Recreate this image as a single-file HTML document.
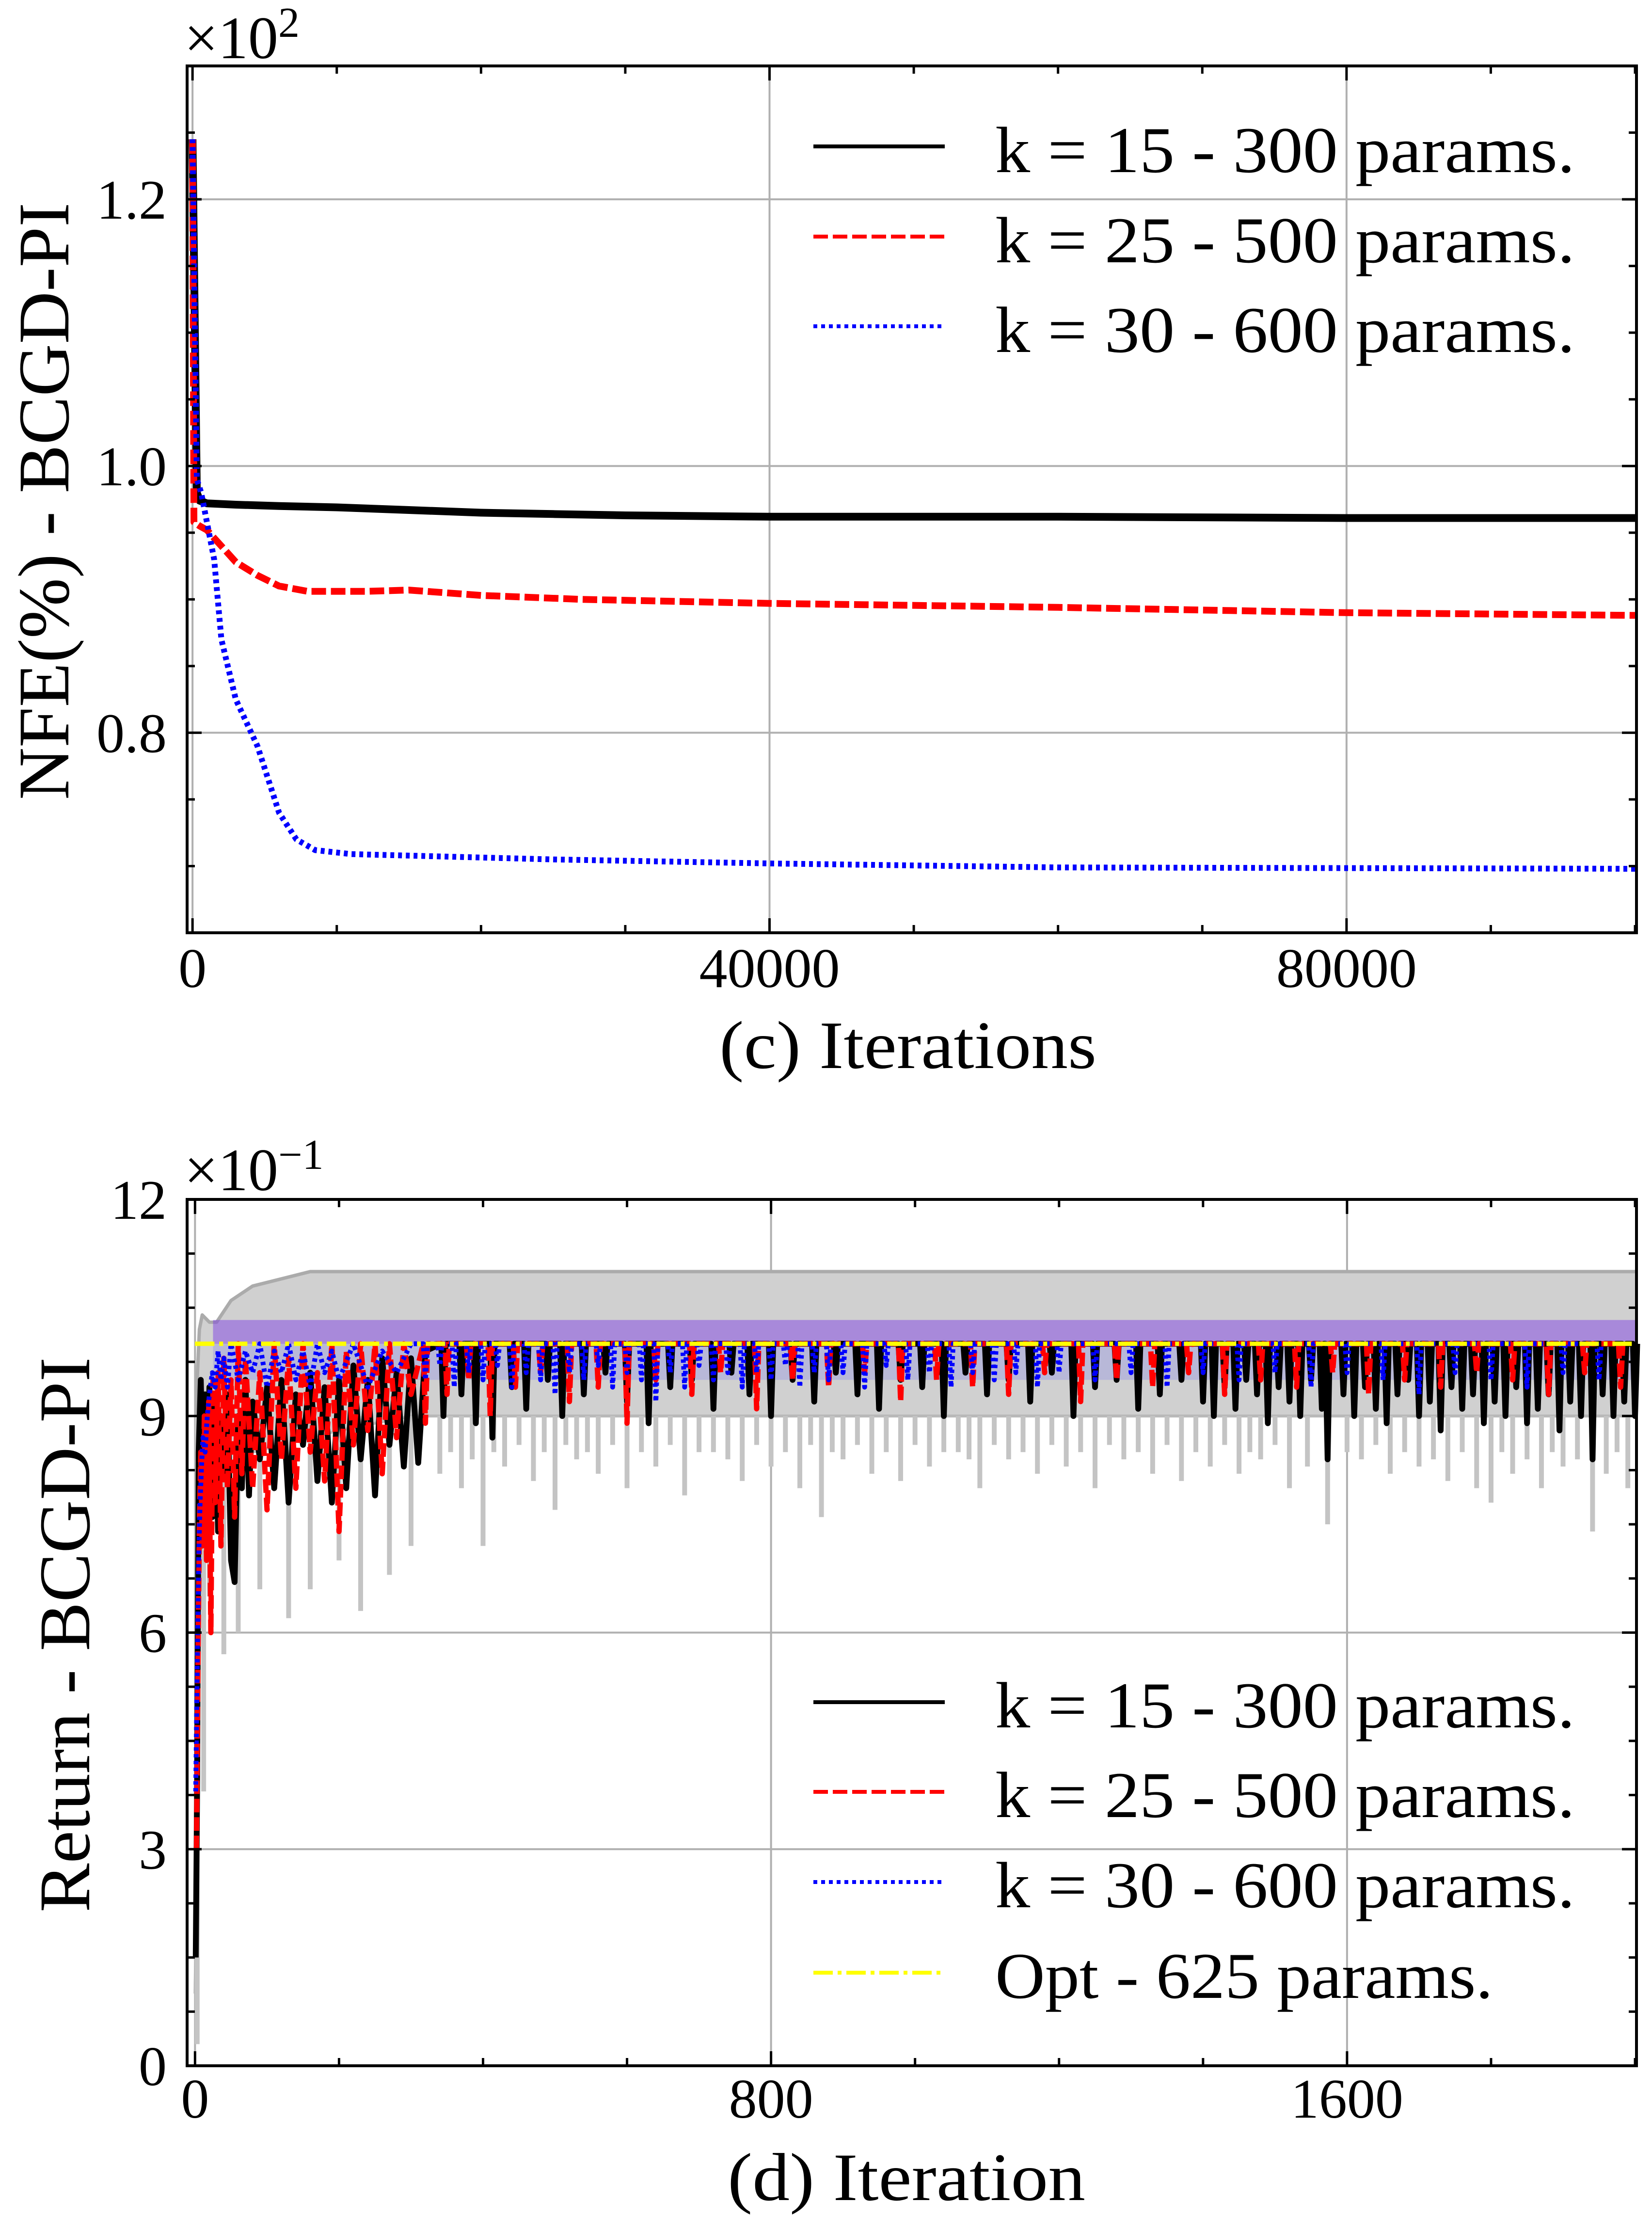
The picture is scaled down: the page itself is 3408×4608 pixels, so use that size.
<!DOCTYPE html>
<html><head><meta charset="utf-8"><style>
html,body{margin:0;padding:0;background:#fff}
svg{display:block;font-family:"Liberation Serif","DejaVu Serif",serif}
</style></head><body>
<svg id="fig" width="3408" height="4608" viewBox="0 0 3408 4608" xmlns="http://www.w3.org/2000/svg">
<rect x="0" y="0" width="3408" height="4608" fill="#fff"/>
<g id="top"></g>
<g id="bot"></g>
</svg>
<script>
// ---------- Top panel data ----------
const topXTicks = [0, 40000, 80000];
const topXTickLabels = ["0", "40000", "80000"];
const topYTicks = [0.8, 1.0, 1.2];
const topYTickLabels = ["0.8", "1.0", "1.2"];
const blackIterC = [0, 300, 500, 1000, 3000, 6000, 10000, 15000, 20000, 25000, 30000, 40000, 60000, 80000, 100000];
const blackValC  = [1.245, 0.98, 0.974, 0.972, 0.971, 0.970, 0.969, 0.967, 0.965, 0.964, 0.963, 0.962, 0.962, 0.961, 0.961];
const redIterC = [0, 100, 500, 1000, 2000, 3000, 4500, 6000, 8000, 12000, 15000, 20000, 27000, 40000, 60000, 80000, 100000];
const redValC  = [1.245, 0.958, 0.955, 0.952, 0.940, 0.928, 0.918, 0.910, 0.906, 0.906, 0.907, 0.903, 0.900, 0.897, 0.894, 0.890, 0.888];
const blueIterC = [0, 300, 600, 1500, 2000, 3000, 4500, 6000, 7200, 8500, 11000, 25000, 40000, 60000, 100000];
const blueValC  = [1.245, 0.99, 0.98, 0.93, 0.87, 0.825, 0.79, 0.74, 0.72, 0.712, 0.709, 0.705, 0.702, 0.699, 0.698];

// ---------- Bottom panel data ----------
const botXTicks = [0, 800, 1600];
const botXTickLabels = ["0", "800", "1600"];
const botYTicks = [0, 3, 6, 9, 12];
const botYTickLabels = ["0", "3", "6", "9", "12"];
const optValue = 10;
const bandIter = [0, 3, 6, 10, 20, 30, 50, 80, 120, 160, 200, 250, 300, 330, 2000];
const bandLow  = [1.0, 3.0, 6.5, 7.3, 7.8, 8.0, 8.3, 8.5, 8.6, 8.7, 8.8, 8.9, 9.0, 9.0, 9.0];
const bandHigh = [1.5, 9.5, 10.2, 10.4, 10.3, 10.3, 10.6, 10.8, 10.9, 11.0, 11.0, 11.0, 11.0, 11.0, 11.0];
const graySpikeIter = [3,12,20,40,60,90,130,160,200,230,270,300,340,355,370,385,400,415,430,450,470,485,500,515,530,545,560,580,600,620,640,660,680,700,720,740,760,780,800,820,840,855,870,885,900,920,940,960,980,1000,1020,1040,1060,1075,1090,1110,1130,1150,1170,1190,1210,1230,1250,1270,1290,1310,1330,1350,1370,1390,1410,1430,1450,1465,1480,1500,1520,1545,1573,1600,1620,1640,1660,1680,1700,1720,1740,1760,1780,1800,1815,1830,1850,1870,1885,1900,1920,1941,1960,1975,1990];
const graySpikeLow  = [0.3,3.8,6.5,5.7,6.0,6.6,6.2,6.6,7.0,6.3,6.8,7.2,8.2,8.5,8.0,8.4,7.2,8.5,8.3,8.6,8.1,8.5,7.7,8.6,8.4,8.5,8.2,8.6,8.0,8.5,8.3,8.6,7.9,8.5,8.5,8.4,8.1,8.6,8.3,8.5,8.0,8.6,7.6,8.5,8.4,8.6,8.2,8.5,8.1,8.6,8.3,8.5,8.5,8.4,8.0,8.6,8.4,8.5,8.2,8.6,8.3,8.5,8.0,8.6,8.4,8.5,8.2,8.6,8.1,8.5,8.3,8.6,8.2,8.5,8.4,8.6,8.0,8.3,7.5,8.5,8.4,8.6,8.2,8.5,8.3,8.4,8.1,8.5,8.0,7.8,8.5,8.2,8.4,8.0,8.5,8.3,8.4,7.4,8.2,8.5,8.0];
const purpleStart = 25, purpleLow = 10.0, purpleHigh = 10.33;
const blackIterD = [1,3,5,8,11,14,17,20,24,28,32,36,40,45,50,55,60,65,70,75,80,90,100,110,120,130,140,150,160,170,180,190,200,210,220,230,240,250,260,270,280,290,300,310,320];
const blackValD  = [1.5,4.0,8.5,9.5,8.2,9.3,8.0,9.4,7.6,9.2,7.4,9.0,8.2,9.3,7.0,6.7,9.0,8.0,9.5,7.9,9.2,8.4,9.4,8.0,9.5,7.8,9.3,8.6,9.6,8.1,9.4,7.8,9.5,8.0,9.7,8.4,9.5,7.9,9.8,8.6,9.6,8.3,9.8,8.35,9.9];
const blackDipIter = [345,370,390,413,440,460,490,510,540,570,600,630,660,690,720,745,770,800,830,860,890,920,950,980,1010,1040,1070,1100,1130,1160,1190,1220,1250,1280,1310,1340,1370,1400,1415,1430,1445,1460,1475,1490,1505,1520,1535,1550,1565,1573,1595,1610,1625,1640,1655,1670,1685,1700,1715,1730,1745,1760,1775,1790,1805,1820,1835,1850,1865,1880,1895,1910,1925,1941,1955,1970,1985,2000];
const blackDipVal  = [9.0,9.3,8.9,8.7,9.4,9.1,9.5,9.0,9.3,9.6,9.2,8.9,9.4,9.5,9.1,9.6,9.3,9.0,9.5,9.2,9.6,9.3,9.1,9.5,9.4,9.0,9.6,9.3,9.5,9.2,9.6,9.0,9.4,9.5,9.1,9.3,9.5,9.2,9.0,9.4,9.1,9.5,9.3,8.9,9.4,9.2,9.0,9.5,9.1,8.4,9.3,9.0,9.4,9.1,8.9,9.3,9.5,9.0,9.2,8.8,9.4,9.1,9.3,8.9,9.2,9.0,9.4,8.9,9.1,9.3,8.8,9.2,9.0,8.4,9.3,9.0,9.2,9.0];
const redIterD = [2,4,6,8,10,13,16,19,22,25,28,32,36,40,45,50,55,60,65,70,80,90,100,110,120,130,140,150,160,170,180,190,200,210,220,230,240,250,260,270,280,290,300];
const redValD  = [3.0,5.5,7.5,8.5,7.2,9.0,7.0,9.2,6.0,9.5,7.8,9.6,7.2,9.8,8.0,9.5,7.6,10,8.2,9.8,8.0,9.6,7.7,10,8.4,9.8,8.0,10,8.5,9.6,8.1,10,7.4,9.9,8.6,10,8.8,10,8.2,10,8.7,10,9.3];
const redDipIter = [320,350,380,410,445,480,520,560,600,640,690,730,780,830,880,930,980,1030,1080,1130,1180,1230,1280,1330,1380,1430,1480,1530,1580,1630,1680,1730,1780,1830,1880,1930,1980];
const redDipVal  = [8.9,9.3,9.5,9.0,9.4,9.6,9.2,9.4,8.9,9.5,9.3,9.6,9.1,9.5,9.4,9.6,9.2,9.5,9.4,9.3,9.6,9.2,9.5,9.4,9.6,9.3,9.5,9.4,9.6,9.3,9.5,9.4,9.6,9.5,9.3,9.6,9.4];
const blueIterD = [1,3,5,7,9,11,14,17,20,24,28,32,36,40,45,50,60,70,80,90,100,110,120,130,140,150,160,170,180,190,200,220,240,260,280,300];
const blueValD  = [3.8,5.5,7.0,7.8,8.3,8.7,8.5,9.0,9.3,9.6,9.4,9.9,9.5,9.8,9.4,10,9.5,9.9,9.6,10,9.4,9.9,9.6,10,9.5,9.9,9.4,10,9.6,9.9,9.5,10,9.4,9.9,9.6,10];
const blueDipIter = [320,340,360,380,400,420,440,460,480,500,520,540,560,580,600,620,640,660,680,700,720,740,760,780,800,820,840,860,880,900,930,960,990,1020,1050,1080,1110,1140,1170,1200,1250,1300,1350,1400,1450,1500,1550,1600,1650,1700,1750,1800,1850,1900,1950];
const blueDipVal  = [9.5,9.7,9.4,9.6,9.5,9.7,9.4,9.6,9.5,9.3,9.6,9.5,9.7,9.4,9.6,9.5,9.2,9.6,9.4,9.7,9.5,9.6,9.4,9.6,9.5,9.7,9.4,9.6,9.5,9.6,9.4,9.7,9.5,9.6,9.4,9.6,9.5,9.6,9.4,9.6,9.5,9.6,9.4,9.6,9.5,9.6,9.4,9.6,9.5,9.3,9.6,9.5,9.4,9.6,9.5];

// ---------- geometry ----------
const NS = "http://www.w3.org/2000/svg";
const T = {L:386, R:3376, T:136, B:1924, x0:-375, x1:100100, y0:0.65, y1:1.30};
const D = {L:386, R:3376, T:2474, B:4261, x0:-11, x1:2002, y0:0, y1:12};
function sx(P, v){ return P.L + (v - P.x0) / (P.x1 - P.x0) * (P.R - P.L); }
function sy(P, v){ return P.B - (v - P.y0) / (P.y1 - P.y0) * (P.B - P.T); }
function mk(tag, attrs, parent){ const e = document.createElementNS(NS, tag); for (const k in attrs) e.setAttribute(k, attrs[k]); parent.appendChild(e); return e; }

const gTop = document.getElementById('top');
const gBot = document.getElementById('bot');

function frame(P, g, xt, yt){
  xt.forEach(v => { const l = mk('line', {x1:sx(P,v), x2:sx(P,v), y1:P.T, y2:P.B, stroke:'#b0b0b0', 'stroke-width':4}, g);
    
     });
  yt.forEach(v => { if (v <= P.y0 || v >= P.y1) return; const l = mk('line', {x1:P.L, x2:P.R, y1:sy(P,v), y2:sy(P,v), stroke:'#b0b0b0', 'stroke-width':4}, g);
    
     });
}
function axes(P, g, xt, xl, yt, yl, xMinorStep, yMinorStep, xLabelBase){
  for (let v = Math.ceil(P.x0 / xMinorStep) * xMinorStep; v <= P.x1; v += xMinorStep) {
    const major = xt.indexOf(v) >= 0; const len = major ? 30 : 16; const x = sx(P, v);
    const t1 = mk('line', {x1:x, x2:x, y1:P.B, y2:P.B - len, stroke:'#000', 'stroke-width':5}, g);
    
    
    const t2 = mk('line', {x1:x, x2:x, y1:P.T, y2:P.T + len, stroke:'#000', 'stroke-width':5}, g);
    
    
  }
  for (let i = Math.ceil(P.y0 / yMinorStep - 1e-6); i * yMinorStep <= P.y1 + 1e-9; i++) {
    const v = i * yMinorStep; const major = yt.some(t => Math.abs(t - v) < 1e-6); const len = major ? 30 : 16; const y = sy(P, v);
    const t1 = mk('line', {x1:P.L, x2:P.L + len, y1:y, y2:y, stroke:'#000', 'stroke-width':5}, g);
    
    
    const t2 = mk('line', {x1:P.R, x2:P.R - len, y1:y, y2:y, stroke:'#000', 'stroke-width':5}, g);
    
    
  }
  const r = mk('rect', {x:P.L, y:P.T, width:P.R - P.L, height:P.B - P.T, fill:'none', stroke:'#000', 'stroke-width':6}, g);
  
  
  xt.forEach((v, i) => { const t = mk('text', {x:sx(P,v), y:xLabelBase, 'font-size':116, 'text-anchor':'middle'}, g); t.textContent = xl[i];
    
     });
  yt.forEach((v, i) => { const t = mk('text', {x:344, y:sy(P,v) + 40, 'font-size':116, 'text-anchor':'end'}, g); t.textContent = yl[i];
    
     });
}
function poly(P, g, xs, ys, attrs, name){
  const pts = xs.map((x, i) => sx(P, x).toFixed(1) + ',' + sy(P, ys[i]).toFixed(1)).join(' ');
  const a = Object.assign({points:pts, fill:'none', 'stroke-linejoin':'round'}, attrs);
  const e = mk('polyline', a, g);
  
  
  return e;
}
function withDips(xs, ys, dipX, dipY, top){
  const X = xs.slice(), Y = ys.slice();
  dipX.forEach((d, i) => { X.push(d - 3, d, d + 3); Y.push(top, dipY[i], top); });
  return [X, Y];
}

// ===== TOP PANEL =====
frame(T, gTop, topXTicks, topYTicks);
poly(T, gTop, blackIterC, blackValC, {stroke:'#000', 'stroke-width':16}, 'series-k15');
poly(T, gTop, redIterC, redValC, {stroke:'#ff0000', 'stroke-width':14, 'stroke-dasharray':'30 10'}, 'series-k25');
poly(T, gTop, blueIterC, blueValC, {stroke:'#0000ff', 'stroke-width':12, 'stroke-dasharray':'8 8'}, 'series-k30');
axes(T, gTop, topXTicks, topXTickLabels, topYTicks, topYTickLabels, 10000, 0.05, 2036);

// ===== BOTTOM PANEL =====
frame(D, gBot, botXTicks, botYTicks);
{
  const up = bandIter.map((x, i) => sx(D,x).toFixed(1) + ',' + sy(D,bandHigh[i]).toFixed(1));
  const lo = bandIter.map((x, i) => sx(D,x).toFixed(1) + ',' + sy(D,bandLow[i]).toFixed(1)).reverse();
  const band = mk('polygon', {points: up.concat(lo).join(' '), fill:'#d0d0d0'}, gBot);
  
  
  poly(D, gBot, bandIter, bandHigh, {stroke:'#ababab', 'stroke-width':7}, 'k15-spread-upper');
  poly(D, gBot, bandIter, bandLow, {stroke:'#b8b8b8', 'stroke-width':6}, 'k15-spread-lower');
  graySpikeIter.forEach((x, i) => {
    const s = mk('line', {x1:sx(D,x), x2:sx(D,x), y1:sy(D,9.0), y2:sy(D,graySpikeLow[i]), stroke:'#c4c4c4', 'stroke-width':10}, gBot);
    
    
  });
  const lb = mk('rect', {x:sx(D,purpleStart), y:sy(D,purpleLow), width:sx(D,D.x1) - sx(D,purpleStart), height:sy(D,9.5) - sy(D,purpleLow), fill:'rgba(80,80,255,0.18)'}, gBot);
  
  
  const pb = mk('rect', {x:sx(D,purpleStart), y:sy(D,purpleHigh), width:sx(D,D.x1) - sx(D,purpleStart), height:sy(D,purpleLow) - sy(D,purpleHigh), fill:'rgba(120,50,230,0.45)'}, gBot);
  
  
}
{
  const [bx, by] = withDips(blackIterD, blackValD, blackDipIter, blackDipVal, 10);
  poly(D, gBot, bx, by, {stroke:'#000', 'stroke-width':12}, 'series-k15-return');
  const [rx, ry] = withDips(redIterD, redValD, redDipIter, redDipVal, 10);
  poly(D, gBot, rx, ry, {stroke:'#ff0000', 'stroke-width':11, 'stroke-dasharray':'28 10'}, 'series-k25-return');
  const [ux, uy] = withDips(blueIterD, blueValD, blueDipIter, blueDipVal, 10);
  poly(D, gBot, ux, uy, {stroke:'#0000ff', 'stroke-width':10, 'stroke-dasharray':'7 7'}, 'series-k30-return');
  poly(D, gBot, [0, D.x1], [optValue, optValue], {stroke:'#ffff00', 'stroke-width':9, 'stroke-dasharray':'40 10 8 10'}, 'series-opt');
}
axes(D, gBot, botXTicks, botXTickLabels, botYTicks, botYTickLabels, 200, 0.75, 4368);
</script>
<svg style="position:absolute;left:0;top:0" width="3408" height="4608" viewBox="0 0 3408 4608" xmlns="http://www.w3.org/2000/svg" font-family="Liberation Serif, DejaVu Serif, serif">
  <text x="380" y="120" font-size="124">×10<tspan dy="-44" font-size="88">2</tspan></text>
  <text transform="translate(141,1034) rotate(-90)" text-anchor="middle" font-size="150" textLength="1232" lengthAdjust="spacingAndGlyphs">NFE(%) - BCGD-PI</text>
  <text x="1484" y="2203" font-size="140" textLength="778" lengthAdjust="spacingAndGlyphs">(c) Iterations</text>
  <g>
    <line x1="1678" x2="1949" y1="302" y2="302" stroke="#000" stroke-width="8"/>
    <text x="2053" y="355" font-size="135" textLength="1196" lengthAdjust="spacingAndGlyphs">k = 15 - 300 params.</text>
    <line x1="1678" x2="1949" y1="488" y2="488" stroke="#f00" stroke-width="8" stroke-dasharray="30 10"/>
    <text x="2053" y="541" font-size="135" textLength="1196" lengthAdjust="spacingAndGlyphs">k = 25 - 500 params.</text>
    <line x1="1678" x2="1949" y1="673" y2="673" stroke="#00f" stroke-width="8" stroke-dasharray="8 8"/>
    <text x="2053" y="726" font-size="135" textLength="1196" lengthAdjust="spacingAndGlyphs">k = 30 - 600 params.</text>
  </g>
  <text x="380" y="2455" font-size="124">×10<tspan dy="-44" font-size="88">−1</tspan></text>
  <text transform="translate(184,3372) rotate(-90)" text-anchor="middle" font-size="150" textLength="1145" lengthAdjust="spacingAndGlyphs">Return - BCGD-PI</text>
  <text x="1501" y="4538" font-size="140" textLength="738" lengthAdjust="spacingAndGlyphs">(d) Iteration</text>
  <g>
    <line x1="1678" x2="1949" y1="3511" y2="3511" stroke="#000" stroke-width="8"/>
    <text x="2053" y="3563" font-size="135" textLength="1196" lengthAdjust="spacingAndGlyphs">k = 15 - 300 params.</text>
    <line x1="1678" x2="1949" y1="3696" y2="3696" stroke="#f00" stroke-width="8" stroke-dasharray="30 10"/>
    <text x="2053" y="3748" font-size="135" textLength="1196" lengthAdjust="spacingAndGlyphs">k = 25 - 500 params.</text>
    <line x1="1678" x2="1949" y1="3882" y2="3882" stroke="#00f" stroke-width="8" stroke-dasharray="8 8"/>
    <text x="2053" y="3934" font-size="135" textLength="1196" lengthAdjust="spacingAndGlyphs">k = 30 - 600 params.</text>
    <line x1="1678" x2="1949" y1="4069" y2="4069" stroke="#ff0" stroke-width="8" stroke-dasharray="40 10 8 10"/>
    <text x="2053" y="4121" font-size="135" textLength="1027" lengthAdjust="spacingAndGlyphs">Opt - 625 params.</text>
  </g>
</svg>
</body></html>
